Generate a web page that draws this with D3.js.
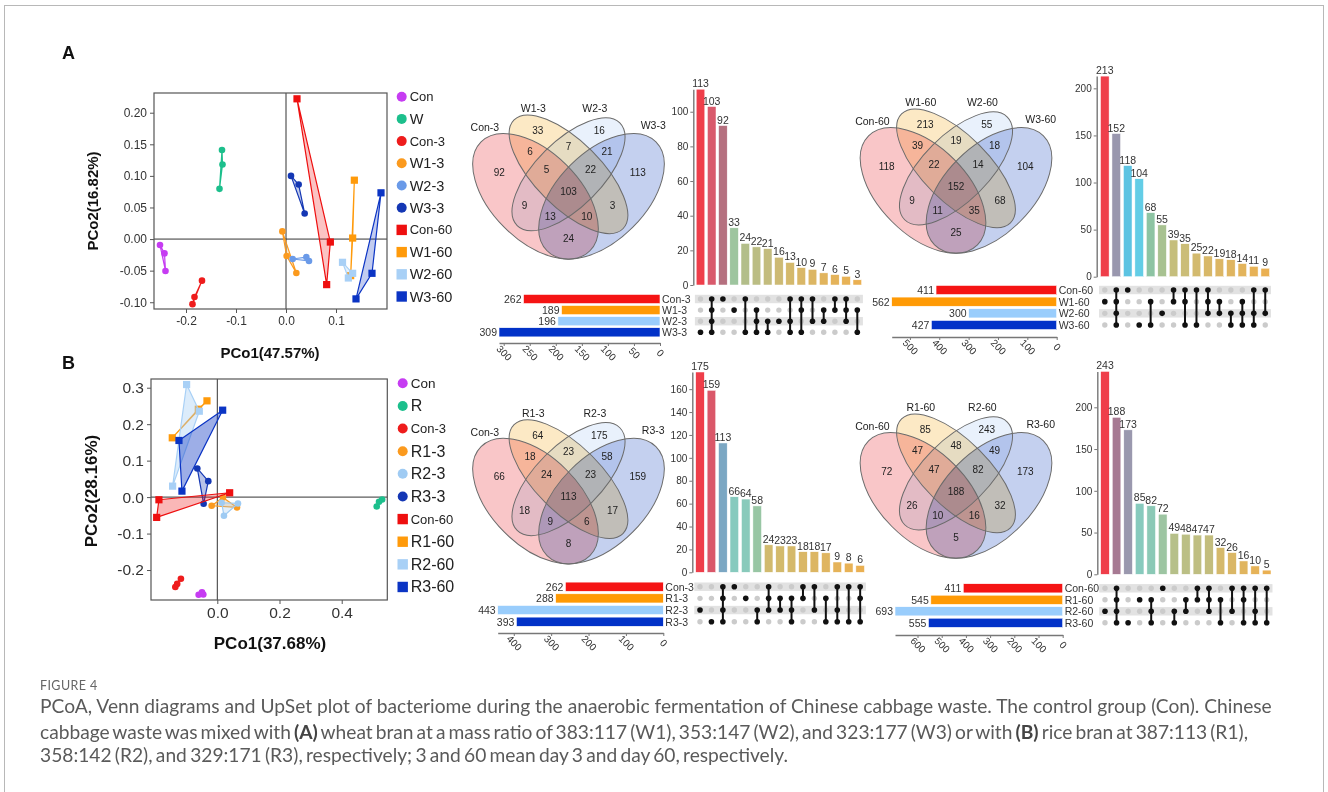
<!DOCTYPE html>
<html>
<head>
<meta charset="utf-8">
<script src="https://cdn.jsdelivr.net/npm/d3@7/dist/d3.min.js"></script>
<style>
  html, body { margin: 0; padding: 0; background: #fff; }
  svg { display: block; }
</style>
</head>
<body>
<svg id="fig" width="1328" height="792"></svg>
<script>
// ================= PCoA, wheat-bran trial (panel A) =================
const pcoaAGroups = ["Con", "W", "Con-3", "W1-3", "W2-3", "W3-3", "Con-60", "W1-60", "W2-60", "W3-60"];
const pcoaAX = [
  [-0.252, -0.243, -0.241],
  [-0.128, -0.127, -0.133],
  [-0.168, -0.183, -0.187],
  [-0.0073, 0.0013, 0.0207],
  [0.0133, 0.0407, 0.046],
  [0.010, 0.0253, 0.0373],
  [0.022, 0.0887, 0.0813],
  [0.1367, 0.1333, 0.1293],
  [0.113, 0.1247, 0.1333],
  [0.190, 0.172, 0.140]
];
const pcoaAY = [
  [-0.0095, -0.0226, -0.0505],
  [0.141, 0.118, 0.0795],
  [-0.0658, -0.0916, -0.103],
  [0.0121, -0.0268, -0.0537],
  [-0.0316, -0.0284, -0.0347],
  [0.100, 0.0863, 0.0405],
  [0.222, -0.0047, -0.0721],
  [0.0932, 0.0016, -0.0579],
  [-0.0368, -0.0616, -0.0542],
  [0.0732, -0.0542, -0.0947]
];
const pcoaAXTicks = [-0.2, -0.1, 0, 0.1];
const pcoaAYTicks = [-0.10, -0.05, 0, 0.05, 0.10, 0.15, 0.20];

// ================= PCoA, rice-bran trial (panel B) =================
const pcoaBGroups = ["Con", "R", "Con-3", "R1-3", "R2-3", "R3-3", "Con-60", "R1-60", "R2-60", "R3-60"];
const pcoaBX = [
  [-0.060, -0.0493, -0.045],
  [0.5126, 0.520, 0.530],
  [-0.135, -0.129, -0.117],
  [-0.0182, 0.0182, 0.0633],
  [0.0139, 0.0214, 0.0665],
  [-0.0643, -0.029, -0.044],
  [-0.1877, -0.195, 0.0397],
  [-0.1448, -0.0611, -0.0332],
  [-0.0987, -0.0579, -0.1437],
  [-0.1233, 0.0172, -0.1137]
];
const pcoaBY = [
  [-0.268, -0.261, -0.267],
  [-0.0256, -0.0128, -0.0064],
  [-0.2466, -0.238, -0.224],
  [-0.0237, -0.0009, -0.0283],
  [-0.0155, -0.0511, -0.0174],
  [0.0785, 0.0438, -0.0183],
  [-0.0073, -0.0557, 0.0119],
  [0.1626, 0.241, 0.264],
  [0.3087, 0.2356, 0.0301],
  [0.1553, 0.2384, 0.0164]
];
const pcoaBXTicks = [0, 0.2, 0.4];
const pcoaBYTicks = [-0.2, -0.1, 0, 0.1, 0.2, 0.3];

// ================= Shared OTUs: wheat bran, day 3 =================
const setsW3 = ["Con-3", "W1-3", "W2-3", "W3-3"];
const sizesW3 = [262, 189, 196, 309];
const combosW3 = ["0001", "1111", "1000", "0100", "1001", "0111", "0011", "0010", "1011", "1101", "1010", "0110", "1100", "1110", "0101"];
const countsW3 = [113, 103, 92, 33, 24, 22, 21, 16, 13, 10, 9, 7, 6, 5, 3];

// ================= Shared OTUs: wheat bran, day 60 =================
const setsW60 = ["Con-60", "W1-60", "W2-60", "W3-60"];
const sizesW60 = [411, 562, 300, 427];
const combosW60 = ["0100", "1111", "1000", "0001", "0101", "0010", "1100", "1101", "1001", "1110", "0110", "0011", "0111", "1011", "1010"];
const countsW60 = [213, 152, 118, 104, 68, 55, 39, 35, 25, 22, 19, 18, 14, 11, 9];

// ================= Shared OTUs: rice bran, day 3 =================
const setsR3 = ["Con-3", "R1-3", "R2-3", "R3-3"];
const sizesR3 = [262, 288, 443, 393];
const combosR3 = ["0010", "0001", "1111", "1000", "0100", "0011", "1110", "0110", "0111", "1100", "1010", "0101", "1011", "1001", "1101"];
const countsR3 = [175, 159, 113, 66, 64, 58, 24, 23, 23, 18, 18, 17, 9, 8, 6];

// ================= Shared OTUs: rice bran, day 60 =================
const setsR60 = ["Con-60", "R1-60", "R2-60", "R3-60"];
const sizesR60 = [411, 545, 693, 555];
const combosR60 = ["0010", "1111", "0001", "0100", "0111", "1000", "0011", "0110", "1100", "1110", "0101", "1010", "1101", "1011", "1001"];
const countsR60 = [243, 188, 173, 85, 82, 72, 49, 48, 47, 47, 32, 26, 16, 10, 5];

// ================= styling =================
const FONT = "'Liberation Sans', Arial, Helvetica, sans-serif";
const groupShapes = ["circle", "circle", "circle", "circle", "circle", "circle", "square", "square", "square", "square"];
const groupColorsA = ["#c63cf2", "#1cbf8c", "#ee1c1c", "#fb9a1e", "#6a9ae8", "#1437b4", "#ee0f0f", "#ff9a0a", "#a8d0f6", "#0b34c4"];
const groupColorsB = ["#c63cf2", "#1cbf8c", "#ee1c1c", "#fb9a1e", "#9fcbf3", "#1437b4", "#ee0f0f", "#ff9a0a", "#a8d0f6", "#0b34c4"];
const legendFontA = [13, 14.5, 13, 14.5, 14.5, 14.5, 13, 14.5, 14.5, 14.5];
const legendFontB = [13.5, 16, 13, 16, 16, 16, 13, 16, 16, 16];
const setColors = ["#f51414", "#ff9a05", "#99cdfc", "#0232c8"];
const barColorsW3 = ["#ef3e4a", "#d95a6c", "#b5707f", "#9ec59f", "#b3be8a", "#bbbd84", "#c3bc7e", "#cdba74", "#d4b96c", "#d9b767", "#dcb663", "#e1b45d", "#e4b35a", "#e7b256", "#eab052"];
const barColorsW60 = ["#ef3e4a", "#9997ae", "#5cc3e2", "#63cde6", "#8dc4a3", "#a8c291", "#c5be7c", "#cbbd77", "#d3ba6e", "#d8b868", "#dcb664", "#dfb560", "#e3b45b", "#e7b256", "#eab052"];
const barColorsR3 = ["#ef3e4a", "#da5769", "#7ba7c3", "#87cabe", "#89cabb", "#98c6a4", "#d1ba6e", "#d3ba6c", "#d5b96a", "#dab766", "#dcb663", "#dfb560", "#e5b359", "#e8b255", "#eab052"];
const barColorsR60 = ["#ef3e4a", "#a77a93", "#9a98ae", "#87cabd", "#8bc9b6", "#9dc5a2", "#b6c089", "#bbbf85", "#bfbe81", "#c3bd7d", "#d5b96b", "#dab766", "#e0b55f", "#e6b358", "#eab052"];

const svg = d3.select("#fig");

// outer frame of the figure
svg.append("rect")
  .attr("x", 4.5).attr("y", 5.5).attr("width", 1319).attr("height", 830)
  .attr("fill", "none").attr("stroke", "#b8b8b8").attr("stroke-width", 1);

// panel letters
[["A", 62, 59], ["B", 62, 369]].forEach(([t, x, y]) => {
  svg.append("text").attr("x", x).attr("y", y).text(t)
    .style("font-family", FONT).style("font-weight", "bold").style("font-size", "18px").attr("fill", "#111");
});

// ---------- PCoA scatter with group hulls ----------
function drawPCoA(o) {
  const g = svg.append("g");
  const x = d3.scaleLinear().domain(o.xDomain).range([o.left, o.right]);
  const y = d3.scaleLinear().domain(o.yDomain).range([o.bottom, o.top]);

  g.append("line").attr("x1", x(0)).attr("x2", x(0)).attr("y1", o.top).attr("y2", o.bottom)
    .attr("stroke", "#333").attr("stroke-width", 1);
  g.append("line").attr("x1", o.left).attr("x2", o.right).attr("y1", y(0)).attr("y2", y(0))
    .attr("stroke", "#333").attr("stroke-width", 1);

  o.groups.forEach((name, i) => {
    const col = o.colors[i];
    const pts = o.xs[i].map((v, j) => [x(v), y(o.ys[i][j])]);
    const hull = d3.polygonHull(pts) || pts;
    g.append("path").attr("d", "M" + hull.map(p => p.join(",")).join("L") + "Z")
      .attr("fill", col).attr("fill-opacity", o.fillOpacity[i])
      .attr("stroke", col).attr("stroke-width", 1.2).attr("stroke-linejoin", "round");
    pts.forEach(p => {
      if (o.shapes[i] === "circle") {
        g.append("circle").attr("cx", p[0]).attr("cy", p[1]).attr("r", 3.3).attr("fill", col);
      } else {
        g.append("rect").attr("x", p[0] - 3.6).attr("y", p[1] - 3.6).attr("width", 7.2).attr("height", 7.2).attr("fill", col);
      }
    });
  });

  g.append("rect").attr("x", o.left).attr("y", o.top)
    .attr("width", o.right - o.left).attr("height", o.bottom - o.top)
    .attr("fill", "none").attr("stroke", "#555").attr("stroke-width", 1.2);

  const styleAxis = sel => {
    sel.select(".domain").remove();
    sel.selectAll(".tick line").attr("stroke", "#555");
    sel.selectAll(".tick text").style("font-family", FONT).style("font-size", o.tickFont + "px").attr("fill", "#333");
  };
  g.append("g").attr("transform", `translate(0,${o.bottom})`)
    .call(d3.axisBottom(x).tickValues(o.xTicks).tickFormat(o.xFmt).tickSize(4).tickPadding(3))
    .call(styleAxis);
  g.append("g").attr("transform", `translate(${o.left},0)`)
    .call(d3.axisLeft(y).tickValues(o.yTicks).tickFormat(o.yFmt).tickSize(4).tickPadding(3))
    .call(styleAxis);

  g.append("text").attr("x", o.xTitlePos[0]).attr("y", o.xTitlePos[1]).text(o.xTitle)
    .attr("text-anchor", "middle").attr("dominant-baseline", "central")
    .style("font-family", FONT).style("font-weight", "bold").style("font-size", o.titleFont + "px").attr("fill", "#111");
  g.append("text").attr("transform", `translate(${o.yTitlePos[0]},${o.yTitlePos[1]}) rotate(-90)`).text(o.yTitle)
    .attr("text-anchor", "middle").attr("dominant-baseline", "central")
    .style("font-family", FONT).style("font-weight", "bold").style("font-size", o.titleFont + "px").attr("fill", "#111");

  // legend
  o.groups.forEach((name, i) => {
    const ly = o.legendY0 + i * o.legendStep;
    if (o.shapes[i] === "circle") {
      g.append("circle").attr("cx", o.legendX).attr("cy", ly).attr("r", 5).attr("fill", o.colors[i]);
    } else {
      g.append("rect").attr("x", o.legendX - 5.2).attr("y", ly - 5.2).attr("width", 10.4).attr("height", 10.4).attr("fill", o.colors[i]);
    }
    g.append("text").attr("x", o.legendX + 8).attr("y", ly).text(name)
      .attr("dominant-baseline", "central")
      .style("font-family", FONT).style("font-size", o.legendFont[i] + "px").attr("fill", "#222");
  });
}

drawPCoA({
  groups: pcoaAGroups, xs: pcoaAX, ys: pcoaAY, colors: groupColorsA, shapes: groupShapes,
  fillOpacity: [0.25, 0.25, 0.25, 0.25, 0.25, 0.25, 0.25, 0.25, 0.3, 0.25],
  left: 154, right: 387, top: 93, bottom: 309,
  xDomain: [-0.264, 0.202], yDomain: [-0.1107, 0.2312],
  xTicks: pcoaAXTicks, yTicks: pcoaAYTicks,
  xFmt: d => d.toFixed(1), yFmt: d => d.toFixed(2),
  tickFont: 12, titleFont: 15,
  xTitle: "PCo1(47.57%)", yTitle: "PCo2(16.82%)",
  xTitlePos: [270, 352], yTitlePos: [92, 201],
  legendX: 401.7, legendY0: 96.7, legendStep: 22.2, legendFont: legendFontA
});

drawPCoA({
  groups: pcoaBGroups, xs: pcoaBX, ys: pcoaBY, colors: groupColorsB, shapes: groupShapes,
  fillOpacity: [0.25, 0.25, 0.25, 0.25, 0.3, 0.3, 0.3, 0.25, 0.4, 0.4],
  left: 151, right: 387.3, top: 379, bottom: 600,
  xDomain: [-0.2132, 0.5466], yDomain: [-0.2822, 0.3239],
  xTicks: pcoaBXTicks, yTicks: pcoaBYTicks,
  xFmt: d => d.toFixed(1), yFmt: d => d.toFixed(1),
  tickFont: 15.5, titleFont: 17,
  xTitle: "PCo1(37.68%)", yTitle: "PCo2(28.16%)",
  xTitlePos: [270, 643], yTitlePos: [91, 491],
  legendX: 402.7, legendY0: 383.3, legendStep: 22.63, legendFont: legendFontB
});

// ---------- four-set Venn diagram ----------
// label anchors in unit coordinates, keyed by membership code (Con, 1, 2, 3)
const vennSpots = {
  "1000": [0.185, 0.58], "0100": [0.36, 0.77], "0010": [0.64, 0.77], "0001": [0.815, 0.58],
  "1100": [0.325, 0.673], "0110": [0.5, 0.695], "0011": [0.675, 0.673],
  "1110": [0.4, 0.59], "0111": [0.6, 0.59], "1111": [0.5, 0.49],
  "1010": [0.3, 0.426], "0101": [0.7, 0.426], "1011": [0.417, 0.377], "1101": [0.583, 0.377],
  "1001": [0.5, 0.279]
};
const vennSetSpots = [[0.12, 0.786], [0.34, 0.87], [0.62, 0.87], [0.885, 0.794]];
const vennEllipses = [
  { c: [0.35, 0.47], a: 0.35, b: 0.20, r: 45, fill: "#f9c6c8" },
  { c: [0.50, 0.57], a: 0.35, b: 0.15, r: 45, fill: "#fce9c5" },
  { c: [0.50, 0.57], a: 0.33, b: 0.15, r: -45, fill: "#e9f1fc" },
  { c: [0.65, 0.47], a: 0.35, b: 0.20, r: -45, fill: "#c4d0ef" }
];

function drawVenn(cx, oy, names, combos, counts) {
  const s = 220;
  const X = u => cx + s * (u - 0.5), Y = v => oy - s * v;
  const g = svg.append("g");
  const fills = g.append("g").style("isolation", "isolate");
  vennEllipses.forEach(e => {
    fills.append("ellipse").attr("cx", X(e.c[0])).attr("cy", Y(e.c[1]))
      .attr("rx", e.a * s).attr("ry", e.b * s)
      .attr("transform", `rotate(${e.r},${X(e.c[0])},${Y(e.c[1])})`)
      .attr("fill", e.fill).style("mix-blend-mode", "multiply");
  });
  vennEllipses.forEach(e => {
    g.append("ellipse").attr("cx", X(e.c[0])).attr("cy", Y(e.c[1]))
      .attr("rx", e.a * s).attr("ry", e.b * s)
      .attr("transform", `rotate(${e.r},${X(e.c[0])},${Y(e.c[1])})`)
      .attr("fill", "none").attr("stroke", "#6b6b6b").attr("stroke-width", 1);
  });
  combos.forEach((code, i) => {
    const p = vennSpots[code];
    g.append("text").attr("x", X(p[0])).attr("y", Y(p[1])).text(counts[i])
      .attr("text-anchor", "middle").attr("dominant-baseline", "central")
      .style("font-family", FONT).style("font-size", "10px").attr("fill", "#222");
  });
  names.forEach((n, i) => {
    const p = vennSetSpots[i];
    g.append("text").attr("x", X(p[0])).attr("y", Y(p[1])).text(n)
      .attr("text-anchor", "middle").attr("dominant-baseline", "central")
      .style("font-family", FONT).style("font-size", "10.5px").attr("fill", "#222");
  });
}

drawVenn(568.5, 299.7, setsW3, combosW3, countsW3);
drawVenn(956, 293.8, setsW60, combosW60, countsW60);
drawVenn(568.5, 604.5, setsR3, combosR3, countsR3);
drawVenn(956, 598.8, setsR60, combosR60, countsR60);

// ---------- UpSet plot ----------
function drawUpSet(L, names, sizes, combos, counts, barColors, yTicks, setTicks) {
  const g = svg.append("g");
  const cx = i => L.first + i * L.step;
  const rowY = r => L.row0 + r * L.rowStep;
  const bw = 8.6;
  const y = d3.scaleLinear().domain([0, d3.max(counts)]).range([L.zeroY, L.topY]);

  counts.forEach((c, i) => {
    g.append("rect").attr("x", cx(i) - bw / 2).attr("y", y(c))
      .attr("width", bw).attr("height", L.zeroY - y(c))
      .attr("fill", barColors[i]).attr("stroke", "#fff").attr("stroke-width", 0.5);
    g.append("text").attr("x", cx(i)).attr("y", y(c) - 2).text(c)
      .attr("text-anchor", "middle")
      .style("font-family", FONT).style("font-size", "10.5px").attr("fill", "#333");
  });

  const ax = g.append("g").attr("transform", `translate(${L.axisX},0)`)
    .call(d3.axisLeft(y).tickValues(yTicks).tickSize(3).tickPadding(2).tickSizeOuter(0));
  ax.select(".domain").attr("stroke", "#777").attr("stroke-width", 1.4);
  ax.selectAll(".tick line").attr("stroke", "#777");
  ax.selectAll(".tick text").style("font-family", FONT).style("font-size", "10px").attr("fill", "#333");

  // membership matrix
  const x0 = cx(0) - L.step / 2, x1 = cx(counts.length - 1) + L.step / 2;
  [0, 2].forEach(r => {
    g.append("rect").attr("x", x0).attr("y", rowY(r) - 4.2).attr("width", x1 - x0).attr("height", 8.4).attr("fill", "#e2e2e2");
  });
  combos.forEach((code, i) => {
    const mem = code.split("").map((ch, r) => ch === "1" ? r : -1).filter(r => r >= 0);
    for (let r = 0; r < names.length; r++) {
      if (!mem.includes(r)) g.append("circle").attr("cx", cx(i)).attr("cy", rowY(r)).attr("r", 2.7).attr("fill", "#cbcbcb");
    }
    if (mem.length > 1) {
      g.append("line").attr("x1", cx(i)).attr("x2", cx(i))
        .attr("y1", rowY(d3.min(mem))).attr("y2", rowY(d3.max(mem)))
        .attr("stroke", "#111").attr("stroke-width", 2);
    }
    mem.forEach(r => g.append("circle").attr("cx", cx(i)).attr("cy", rowY(r)).attr("r", 2.8).attr("fill", "#111"));
  });

  // set sizes
  const sx = d3.scaleLinear().domain([0, d3.max(sizes)]).range([L.setZeroX, L.setMaxX]);
  sizes.forEach((v, r) => {
    g.append("rect").attr("x", sx(v)).attr("y", rowY(r) - 4.6)
      .attr("width", L.setZeroX - sx(v)).attr("height", 9.2)
      .attr("fill", setColors[r]).attr("stroke", "#fff").attr("stroke-width", 0.6);
    g.append("text").attr("x", sx(v) - 2).attr("y", rowY(r)).text(v)
      .attr("text-anchor", "end").attr("dominant-baseline", "central")
      .style("font-family", FONT).style("font-size", "10.5px").attr("fill", "#333");
    g.append("text").attr("x", L.setZeroX + 2).attr("y", rowY(r)).text(names[r])
      .attr("dominant-baseline", "central")
      .style("font-family", FONT).style("font-size", "10.5px").attr("fill", "#333");
  });
  const sa = g.append("g").attr("transform", `translate(0,${L.setAxisY})`)
    .call(d3.axisBottom(sx).tickValues(setTicks).tickSize(3).tickSizeOuter(0));
  sa.select(".domain").attr("stroke", "#777").attr("stroke-width", 1.4);
  sa.selectAll(".tick line").attr("stroke", "#777");
  sa.selectAll(".tick text")
    .attr("y", 0).attr("dy", null)
    .attr("transform", "translate(0,10) rotate(45)")
    .attr("text-anchor", "middle").attr("dominant-baseline", "central")
    .style("font-family", FONT).style("font-size", "10px").attr("fill", "#333");
}

drawUpSet({ axisX: 693.3, zeroY: 285, topY: 89.2, first: 700.5, step: 11.2, row0: 299, rowStep: 11.1, setZeroX: 660, setMaxX: 499, setAxisY: 343 },
  setsW3, sizesW3, combosW3, countsW3, barColorsW3, [0, 20, 40, 60, 80, 100], [0, 50, 100, 150, 200, 250, 300]);
drawUpSet({ axisX: 1096.7, zeroY: 276.7, topY: 76.1, first: 1104.8, step: 11.46, row0: 290, rowStep: 11.67, setZeroX: 1056.7, setMaxX: 891.7, setAxisY: 337 },
  setsW60, sizesW60, combosW60, countsW60, barColorsW60, [0, 50, 100, 150, 200], [0, 100, 200, 300, 400, 500]);
drawUpSet({ axisX: 692.3, zeroY: 572.3, topY: 372, first: 700, step: 11.44, row0: 586.7, rowStep: 11.67, setZeroX: 663.3, setMaxX: 497.7, setAxisY: 633 },
  setsR3, sizesR3, combosR3, countsR3, barColorsR3, [0, 20, 40, 60, 80, 100, 120, 140, 160], [0, 100, 200, 300, 400]);
drawUpSet({ axisX: 1097.3, zeroY: 574.3, topY: 371.4, first: 1105, step: 11.55, row0: 588.3, rowStep: 11.5, setZeroX: 1062.7, setMaxX: 895, setAxisY: 635 },
  setsR60, sizesR60, combosR60, countsR60, barColorsR60, [0, 50, 100, 150, 200], [0, 100, 200, 300, 400, 500, 600]);

// ---------- caption ----------
const CAP_FONT = "Lato, 'Open Sans', 'Liberation Sans', sans-serif";
svg.append("text").attr("x", 40).attr("y", 690).text("FIGURE 4")
  .style("font-family", CAP_FONT).style("font-size", "12.5px").style("letter-spacing", "0.4px").attr("fill", "#666");

const captionLines = [
  [["PCoA, Venn diagrams and UpSet plot of bacteriome during the anaerobic fermentation of Chinese cabbage waste. The control group (Con). Chinese", 0]],
  [["cabbage waste was mixed with ", 0], ["(A)", 1], [" wheat bran at a mass ratio of 383:117 (W1), 353:147 (W2), and 323:177 (W3) or with ", 0], ["(B)", 1], [" rice bran at 387:113 (R1),", 0]],
  [["358:142 (R2), and 329:171 (R3), respectively; 3 and 60 mean day 3 and day 60, respectively.", 0]]
];
const capBase = [713, 739, 762];
const capWidth = [1232, 1208, 748];
const capNodes = captionLines.map((parts, li) => {
  const t = svg.append("text").attr("x", 40).attr("y", capBase[li])
    .style("font-family", CAP_FONT).style("font-size", "16px").attr("fill", "#5a5a5a");
  parts.forEach(([s, b]) => t.append("tspan").text(s).style("font-weight", b ? "bold" : "normal").attr("fill", b ? "#444" : null));
  return t;
});
// one shared size fitted to the first line; later lines tightened through word spacing
const capSize = 16 * capWidth[0] / capNodes[0].node().getComputedTextLength();
capNodes.forEach((t, li) => {
  t.style("font-size", capSize + "px");
  if (li === 0) return;
  const natural = t.node().getComputedTextLength();
  const spaces = captionLines[li].map(p => p[0]).join("").split(" ").length - 1;
  const ws = Math.max(-2.5, Math.min(0, (capWidth[li] - natural) / spaces));
  t.style("word-spacing", ws + "px");
});
</script>
</body>
</html>
